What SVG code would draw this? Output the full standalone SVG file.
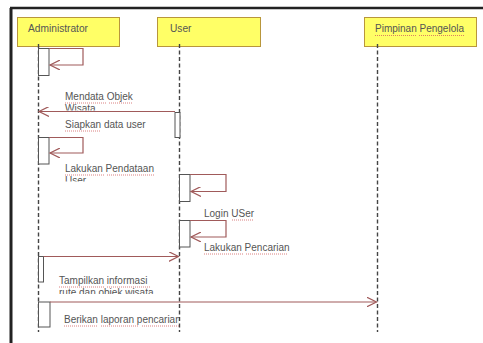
<svg xmlns="http://www.w3.org/2000/svg" width="483" height="343" viewBox="0 0 483 343">
<style>
.box{fill:#ffff66;stroke:#b8963c;stroke-width:1}
.lt{font-family:"Liberation Sans",Arial,sans-serif;font-size:10.2px;fill:#555}
.t{font-family:"Liberation Sans",Arial,sans-serif;font-size:10px;fill:#555}
.life{stroke:#444;stroke-width:1.4;stroke-dasharray:4,2.5;fill:none}
.act{fill:#fff;stroke:#555;stroke-width:1}
.msg{stroke:#a05a5a;stroke-width:1.2;fill:none}
.sq{stroke:#d06060;stroke-width:0.8;stroke-dasharray:1,1;fill:none}
</style>
<defs>
<marker id="ah" markerWidth="12" markerHeight="10" refX="10" refY="5" orient="auto" markerUnits="userSpaceOnUse">
<path d="M0,0 L10,5 L0,10" fill="none" stroke="#a05a5a" stroke-width="1.2"/>
</marker>
<clipPath id="c1"><rect x="60" y="88" width="120" height="22.5"/></clipPath>
<clipPath id="c2"><rect x="60" y="160" width="120" height="21.5"/></clipPath>
<clipPath id="c3"><rect x="55" y="272" width="130" height="22"/></clipPath>
<clipPath id="c4"><rect x="55" y="310" width="124" height="20"/></clipPath>
</defs>
<rect width="483" height="343" fill="#fff"/>
<g id="frame">
<line x1="10" y1="8" x2="483" y2="8" stroke="#222" stroke-width="2.5"/>
<line x1="11" y1="8" x2="11" y2="343" stroke="#222" stroke-width="3"/>
</g>
<g id="administrator">
<rect class="box" x="17.5" y="17.5" width="102" height="29"/>
<text class="lt" x="28" y="32">Administrator</text>
<line class="life" x1="38.5" y1="44" x2="38.5" y2="332"/>
</g>
<g id="user">
<rect class="box" x="157.5" y="17.5" width="103" height="29"/>
<text class="lt" x="170" y="32">User</text>
<line class="life" x1="179.5" y1="44" x2="179.5" y2="332"/>
</g>
<g id="pimpinan">
<rect class="box" x="364.5" y="17.5" width="112" height="29"/>
<text class="lt" x="375" y="32" textLength="89" lengthAdjust="spacingAndGlyphs">Pimpinan Pengelola</text>
<path class="sq" d="M375,35.5 H416 M419,35.5 H464"/>
<line class="life" x1="377.5" y1="44" x2="377.5" y2="332"/>
</g>
<g id="activations">
<rect class="act" x="38.5" y="48.5" width="10.5" height="27"/>
<rect class="act" x="175" y="112.5" width="5" height="25"/>
<rect class="act" x="38.5" y="137.5" width="10.5" height="26.5"/>
<rect class="act" x="179.5" y="174.5" width="10.5" height="27"/>
<rect class="act" x="179.5" y="220.5" width="10.5" height="26.5"/>
<rect class="act" x="38.5" y="256.5" width="5" height="25.5"/>
<rect class="act" x="38.5" y="302" width="11.5" height="25"/>
</g>
<g id="connectors">
<path class="msg" d="M49,48.5 H83 V65 H50" marker-end="url(#ah)"/>
<path class="msg" d="M175,111.5 H39" marker-end="url(#ah)"/>
<path class="msg" d="M49,137.5 H83 V153 H50" marker-end="url(#ah)"/>
<path class="msg" d="M190,174.5 H226 V191.5 H191" marker-end="url(#ah)"/>
<path class="msg" d="M190,220.5 H226 V237 H191" marker-end="url(#ah)"/>
<path class="msg" d="M43.5,256.5 H178.5" marker-end="url(#ah)"/>
<path class="msg" d="M50,302 H376.5" marker-end="url(#ah)"/>
</g>
<g id="labels">
<g clip-path="url(#c1)">
<text class="t" x="65" y="100">Mendata Objek</text>
<text class="t" x="65" y="112">Wisata</text>
<path class="sq" d="M65,103 H106 M109,103 H132"/>
</g>
<text class="t" x="65" y="128">Siapkan data user</text>
<path class="sq" d="M65,131 H100"/>
<g clip-path="url(#c2)">
<text class="t" x="65" y="172">Lakukan Pendataan</text>
<text class="t" x="65" y="184">User</text>
<path class="sq" d="M65,175 H104 M107,175 H154"/>
</g>
<text class="t" x="204" y="217">Login USer</text>
<path class="sq" d="M232,220 H253"/>
<text class="t" x="204" y="251">Lakukan Pencarian</text>
<path class="sq" d="M204,254 H243 M246,254 H288"/>
<g clip-path="url(#c3)">
<text class="t" x="59" y="284">Tampilkan informasi</text>
<text class="t" x="59" y="296">rute dan objek wisata</text>
<path class="sq" d="M59,287 H104 M107,287 H150"/>
</g>
<g clip-path="url(#c4)">
<text class="t" x="64" y="323">Berikan laporan pencarian</text>
<path class="sq" d="M64,326 H98 M101,326 H139 M142,326 H180"/>
</g>
</g>
</svg>
